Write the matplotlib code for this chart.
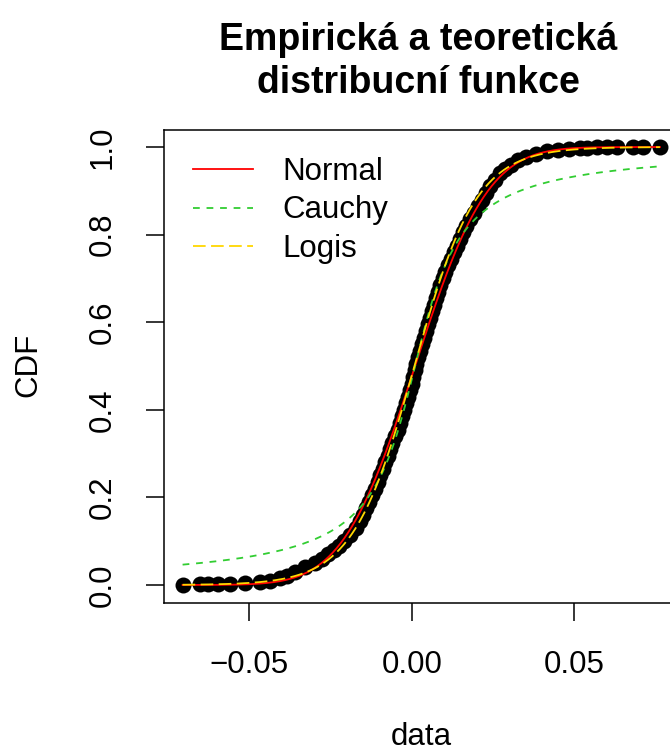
import math
import numpy as np
import matplotlib.pyplot as plt

emp_x = [-0.0705, -0.0652, -0.0628, -0.0597, -0.0560, -0.0514, -0.0468, -0.0437,
         -0.0406, -0.0385, -0.0360, -0.0329, -0.0298, -0.0277, -0.0258, -0.0240,
         -0.0225, -0.0209, -0.0191, -0.0172, -0.0160, -0.0151, -0.0142, -0.0132,
         -0.0123, -0.0114, -0.0105, -0.0098, -0.0089, -0.0083, -0.0074, -0.0068,
         -0.0062, -0.0052, -0.0043, -0.0037, -0.0031, -0.0025, -0.0018, -0.0012,
         -0.0006, 0.0000, 0.0003, 0.0009, 0.0012, 0.0018, 0.0025, 0.0031,
         0.0037, 0.0043, 0.0049, 0.0055, 0.0062, 0.0068, 0.0074, 0.0080,
         0.0086, 0.0095, 0.0102, 0.0111, 0.0120, 0.0129, 0.0138, 0.0148,
         0.0157, 0.0166, 0.0178, 0.0191, 0.0203, 0.0215, 0.0228, 0.0240,
         0.0255, 0.0271, 0.0286, 0.0305, 0.0326, 0.0351, 0.0382, 0.0415,
         0.0449, 0.0483, 0.0517, 0.0538, 0.0569, 0.0600, 0.0631, 0.0680,
         0.0711, 0.0763]
emp_cdf = [0.001, 0.0015, 0.002, 0.0025, 0.003, 0.004, 0.006, 0.010,
           0.015, 0.020, 0.030, 0.040, 0.050, 0.060, 0.070, 0.080,
           0.090, 0.100, 0.115, 0.130, 0.145, 0.160, 0.175, 0.190,
           0.205, 0.220, 0.235, 0.250, 0.265, 0.280, 0.295, 0.310,
           0.325, 0.340, 0.355, 0.370, 0.385, 0.400, 0.415, 0.430,
           0.445, 0.460, 0.475, 0.490, 0.505, 0.520, 0.535, 0.550,
           0.565, 0.580, 0.595, 0.610, 0.625, 0.640, 0.655, 0.670,
           0.685, 0.700, 0.715, 0.730, 0.745, 0.760, 0.775, 0.790,
           0.805, 0.820, 0.835, 0.850, 0.865, 0.880, 0.895, 0.910,
           0.925, 0.940, 0.950, 0.960, 0.970, 0.978, 0.985, 0.990,
           0.994, 0.996, 0.998, 0.9985, 0.999, 0.9992, 0.9994, 0.9996,
           0.9998, 1.000]

# fitted parameters (estimated from the curves)
norm_mean, norm_sd = 0.0010, 0.0175
cauchy_loc, cauchy_scale = 0.0010, 0.0105
logis_loc, logis_scale = 0.0008, 0.0095

labels = ["Normal", "Cauchy", "Logis"]
colors = ["#FF0000", "#32CD32", "#FFD700"]

plt.rcParams['font.family'] = ['Liberation Sans', 'DejaVu Sans']
fs = 22.5

fig = plt.figure(figsize=(6.7, 7.53), dpi=100)
ax = fig.add_axes([163.5 / 670, 1 - 602.5 / 753, (679 - 163.5) / 670, (602.5 - 129.5) / 753])

ax.plot(emp_x, emp_cdf, 'o', color='black', ms=11.5, mew=0, zorder=2)

xs = np.linspace(min(emp_x), max(emp_x), 500)
p_norm = np.array([0.5 * (1 + math.erf((v - norm_mean) / (norm_sd * math.sqrt(2)))) for v in xs])
p_cauchy = 0.5 + np.arctan((xs - cauchy_loc) / cauchy_scale) / np.pi
p_logis = 1 / (1 + np.exp(-(xs - logis_loc) / logis_scale))

ax.plot(xs, p_norm, color=colors[0], lw=1.3, label=labels[0], zorder=3)
ax.plot(xs, p_cauchy, color=colors[1], lw=1.3, dashes=(3.75, 3.75), label=labels[1], zorder=3)
ax.plot(xs, p_logis, color=colors[2], lw=1.3, dashes=(7, 3), label=labels[2], zorder=3)

rng = max(emp_x) - min(emp_x)
ax.set_xlim(min(emp_x) - 0.04 * rng, max(emp_x) + 0.04 * rng)
ax.set_ylim(-0.04, 1.04)

ax.set_xticks([-0.05, 0.0, 0.05])
ax.set_xticklabels(["\u22120.05", "0.00", "0.05"])
ax.set_yticks([0.0, 0.2, 0.4, 0.6, 0.8, 1.0])
ax.set_yticklabels(["0.0", "0.2", "0.4", "0.6", "0.8", "1.0"])
ax.tick_params(axis='both', direction='out', length=13, width=1.1, labelsize=fs)
ax.tick_params(axis='x', pad=32)
ax.tick_params(axis='y', pad=31)
for lbl in ax.get_xticklabels():
    lbl.set_va('center')
for lbl in ax.get_yticklabels():
    lbl.set_rotation(90)
    lbl.set_ha('center')
    lbl.set_va('center')
for sp in ax.spines.values():
    sp.set_linewidth(1.1)

leg = ax.legend(loc='upper left', bbox_to_anchor=(193 / 670, 1 - 157 / 753),
                bbox_transform=fig.transFigure, frameon=False, fontsize=fs,
                handlelength=1.92, handletextpad=0.93, labelspacing=0.27,
                borderpad=0, borderaxespad=0)

fig.text(418 / 670, 1 - 50 / 753, "Empirická a teoretická", ha='center', va='baseline',
         fontsize=27, fontweight='bold')
fig.text(418 / 670, 1 - 93 / 753, "distribucní funkce", ha='center', va='baseline',
         fontsize=27, fontweight='bold')
fig.text(421 / 670, 1 - 745 / 753, "data", ha='center', va='baseline', fontsize=fs)
fig.text(28 / 670, 1 - 365 / 753, "CDF", ha='center', va='center', rotation=90, fontsize=fs)

fig.savefig("out.png", dpi=100)
